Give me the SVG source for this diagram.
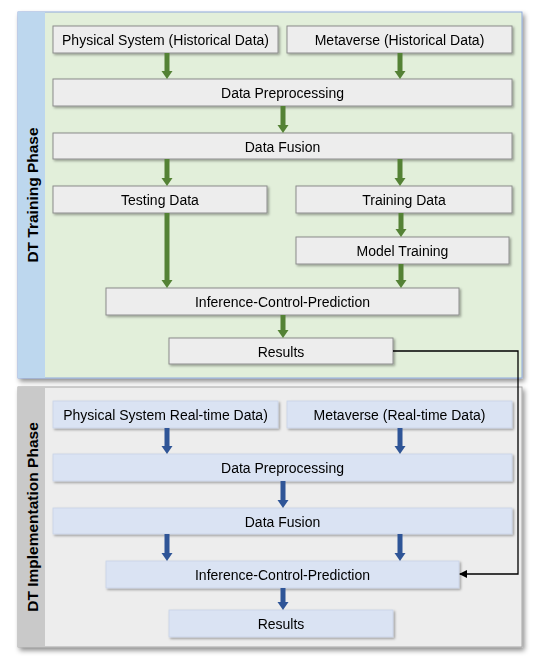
<svg xmlns="http://www.w3.org/2000/svg" width="540" height="662" viewBox="0 0 540 662">
<style>
text{font-family:"Liberation Sans",Arial,sans-serif;font-size:14px;fill:#000;text-anchor:middle;dominant-baseline:central}
.side{font-weight:bold;font-size:15.5px}
.gn rect{fill:#EDEDED;stroke:#8C8C8C;stroke-width:1}
.bn rect{fill:#DAE3F3;stroke:#C9D3E6;stroke-width:0.8}
.ga{fill:#548235}
.ba{fill:#2F5597}
.link{fill:none;stroke:#000;stroke-width:1.3}
</style>
<defs>
<filter id="psh" x="-10%" y="-10%" width="125%" height="125%">
<feDropShadow dx="2" dy="3" stdDeviation="2.5" flood-color="#000" flood-opacity="0.45"/>
</filter>
<filter id="nsh" x="-10%" y="-20%" width="125%" height="160%">
<feDropShadow dx="1.5" dy="1.5" stdDeviation="1.2" flood-color="#000" flood-opacity="0.35"/>
</filter>
<marker id="ah" markerWidth="8" markerHeight="8" refX="7" refY="4" orient="auto" markerUnits="userSpaceOnUse">
<path d="M0,0 L8,4 L0,8 z" fill="#000"/>
</marker>
</defs>
<rect width="540" height="662" fill="#fff"/>

<g id="panel-training">
<rect x="18" y="12" width="504" height="366" fill="#E2EFDA" stroke="#8FAADC" stroke-width="1" filter="url(#psh)"/>
<rect x="18" y="12" width="27" height="366" fill="#BDD7EE"/>
<text class="side" transform="translate(32,195) rotate(-90)">DT Training Phase</text>
</g>
<g id="panel-implementation">
<rect x="18" y="387" width="504" height="260" fill="#EDEDED" stroke="#A6A6A6" stroke-width="1" filter="url(#psh)"/>
<rect x="18" y="387" width="27" height="260" fill="#C9C9C9"/>
<text class="side" transform="translate(32,517) rotate(-90)">DT Implementation Phase</text>
</g>

<g id="t-physical" class="gn" filter="url(#nsh)"><rect x="53" y="26" width="225" height="27"/><text x="165.5" y="40">Physical System (Historical Data)</text></g>
<g id="t-metaverse" class="gn" filter="url(#nsh)"><rect x="287" y="26" width="225" height="27"/><text x="399.5" y="40">Metaverse (Historical Data)</text></g>
<g id="t-preproc" class="gn" filter="url(#nsh)"><rect x="53" y="79" width="459" height="27"/><text x="282.5" y="93">Data Preprocessing</text></g>
<g id="t-fusion" class="gn" filter="url(#nsh)"><rect x="53" y="133" width="459" height="26"/><text x="282.5" y="146.5">Data Fusion</text></g>
<g id="t-testing" class="gn" filter="url(#nsh)"><rect x="53" y="186" width="214" height="27"/><text x="160" y="200">Testing Data</text></g>
<g id="t-trainingdata" class="gn" filter="url(#nsh)"><rect x="296" y="186" width="216" height="27"/><text x="404" y="200">Training Data</text></g>
<g id="t-model" class="gn" filter="url(#nsh)"><rect x="296" y="237" width="213" height="27"/><text x="402.5" y="251">Model Training</text></g>
<g id="t-inference" class="gn" filter="url(#nsh)"><rect x="106" y="288" width="353" height="27"/><text x="282.5" y="302">Inference-Control-Prediction</text></g>
<g id="t-results" class="gn" filter="url(#nsh)"><rect x="169" y="338" width="224" height="26"/><text x="281" y="351.5">Results</text></g>

<g id="i-physical" class="bn" filter="url(#nsh)"><rect x="53" y="401" width="225" height="27"/><text x="165.5" y="415">Physical System Real-time Data)</text></g>
<g id="i-metaverse" class="bn" filter="url(#nsh)"><rect x="287" y="401" width="225" height="27"/><text x="399.5" y="415">Metaverse (Real-time Data)</text></g>
<g id="i-preproc" class="bn" filter="url(#nsh)"><rect x="53" y="454" width="459" height="27"/><text x="282.5" y="468">Data Preprocessing</text></g>
<g id="i-fusion" class="bn" filter="url(#nsh)"><rect x="53" y="508" width="459" height="26"/><text x="282.5" y="521.5">Data Fusion</text></g>
<g id="i-inference" class="bn" filter="url(#nsh)"><rect x="106" y="561" width="353" height="27"/><text x="282.5" y="575">Inference-Control-Prediction</text></g>
<g id="i-results" class="bn" filter="url(#nsh)"><rect x="169" y="610" width="224" height="27"/><text x="281" y="624">Results</text></g>

<g id="connectors">
<polygon class="ga" points="164.5,53 169.5,53 169.5,71 172.5,71 167,79 161.5,71 164.5,71"/>
<polygon class="ga" points="397.5,53 402.5,53 402.5,71 405.5,71 400,79 394.5,71 397.5,71"/>
<polygon class="ga" points="280.5,106 285.5,106 285.5,125 288.5,125 283,133 277.5,125 280.5,125"/>
<polygon class="ga" points="164.5,159 169.5,159 169.5,178 172.5,178 167,186 161.5,178 164.5,178"/>
<polygon class="ga" points="397.5,159 402.5,159 402.5,178 405.5,178 400,186 394.5,178 397.5,178"/>
<polygon class="ga" points="164.5,213 169.5,213 169.5,280 172.5,280 167,288 161.5,280 164.5,280"/>
<polygon class="ga" points="398.5,213 403.5,213 403.5,229 406.5,229 401,237 395.5,229 398.5,229"/>
<polygon class="ga" points="398.5,264 403.5,264 403.5,280 406.5,280 401,288 395.5,280 398.5,280"/>
<polygon class="ga" points="280.5,315 285.5,315 285.5,330 288.5,330 283,338 277.5,330 280.5,330"/>

<polygon class="ba" points="164.5,428 169.5,428 169.5,446 172.5,446 167,454 161.5,446 164.5,446"/>
<polygon class="ba" points="397.5,428 402.5,428 402.5,446 405.5,446 400,454 394.5,446 397.5,446"/>
<polygon class="ba" points="280.5,481 285.5,481 285.5,500 288.5,500 283,508 277.5,500 280.5,500"/>
<polygon class="ba" points="164.5,534 169.5,534 169.5,553 172.5,553 167,561 161.5,553 164.5,553"/>
<polygon class="ba" points="397.5,534 402.5,534 402.5,553 405.5,553 400,561 394.5,553 397.5,553"/>
<polygon class="ba" points="280.5,588 285.5,588 285.5,602 288.5,602 283,610 277.5,602 280.5,602"/>

<polyline class="link" points="393,351 518,351 518,574 460,574" marker-end="url(#ah)"/>
</g>
</svg>
